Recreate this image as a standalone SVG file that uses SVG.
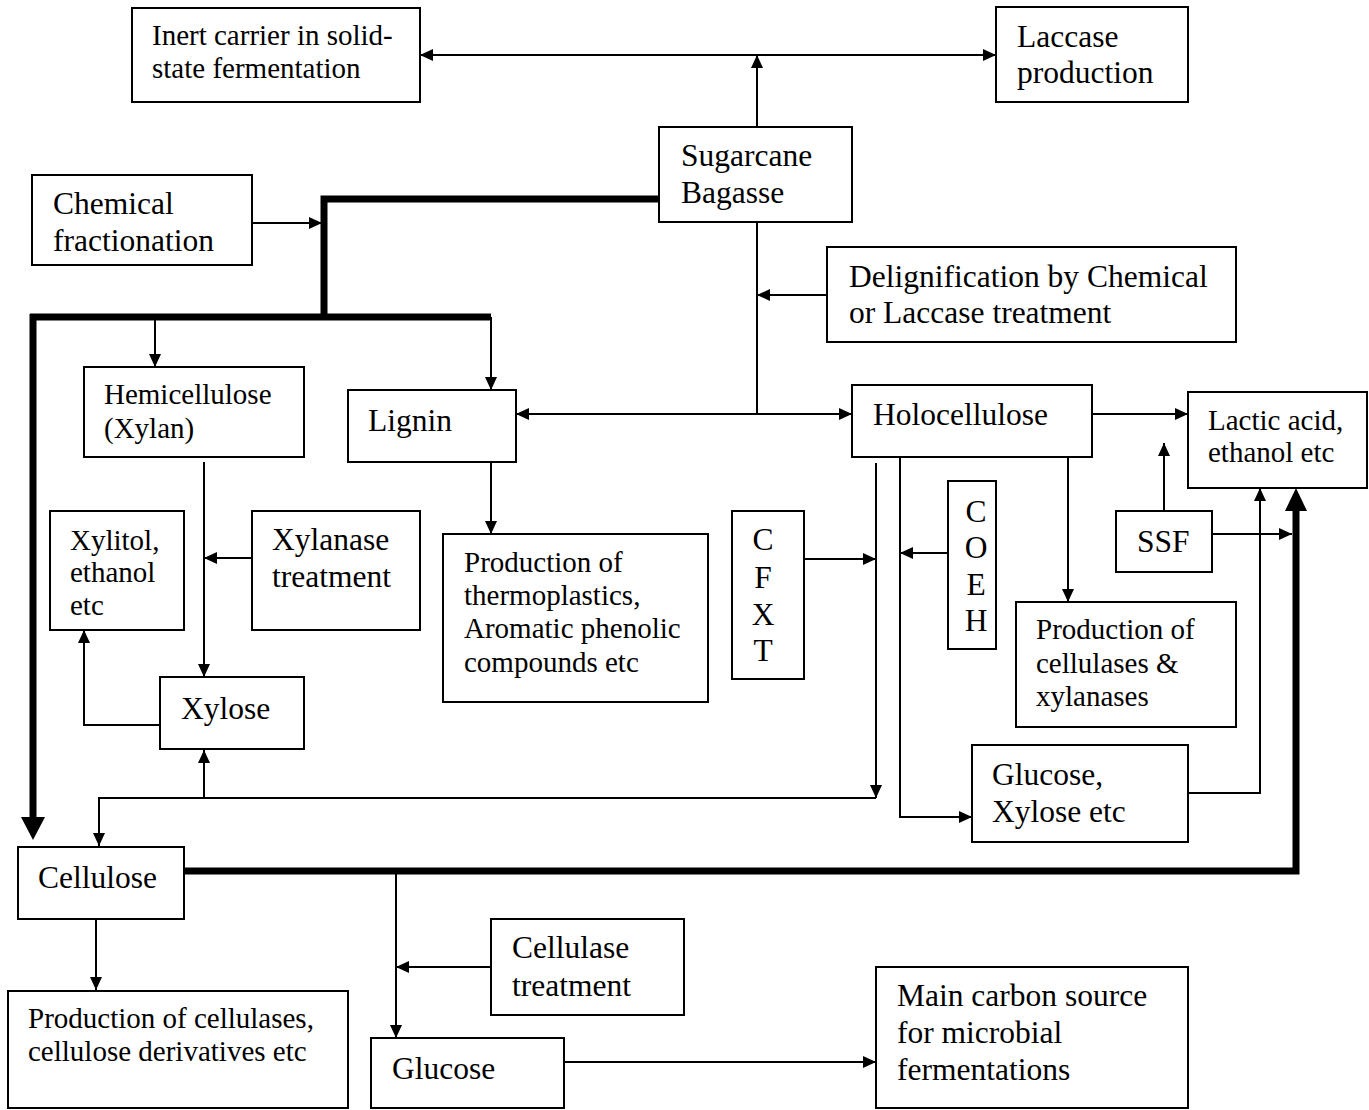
<svg xmlns="http://www.w3.org/2000/svg" width="1369" height="1110" viewBox="0 0 1369 1110">
<style>
.box{fill:#fff;stroke:#000;stroke-width:2}
.t{font-family:"Liberation Serif","Times New Roman",serif;font-size:31.5px;fill:#000}
.s{font-size:29px}
.c{stroke:#000;stroke-width:2;fill:none}
.k{stroke:#000;stroke-width:7;fill:none;stroke-linejoin:miter}
</style>
<defs>
<marker id="a" markerUnits="userSpaceOnUse" markerWidth="14" markerHeight="12" refX="13" refY="6" orient="auto-start-reverse"><path d="M0,0 L13,6 L0,12 z" fill="#000"/></marker>
<marker id="b" markerUnits="userSpaceOnUse" markerWidth="24" markerHeight="24" refX="0" refY="12" orient="auto"><path d="M0,0 L23,12 L0,24 z" fill="#000"/></marker>
</defs>
<g id="connectors">
<path class="c" d="M757,127 V55" marker-end="url(#a)"/>
<path class="c" d="M420,55 H996" marker-start="url(#a)" marker-end="url(#a)"/>
<path class="k" d="M659,199 H324 V317"/>
<path class="k" d="M30,317 H491"/>
<path class="k" d="M33,314 V817" marker-end="url(#b)"/>
<path class="c" d="M252,223 H322" marker-end="url(#a)"/>
<path class="c" d="M155,317 V367" marker-end="url(#a)"/>
<path class="c" d="M491,317 V390" marker-end="url(#a)"/>
<path class="c" d="M204,462 V677" marker-end="url(#a)"/>
<path class="c" d="M252,558 H204" marker-end="url(#a)"/>
<path class="c" d="M160,725 H84 V630" marker-end="url(#a)"/>
<path class="c" d="M757,221 V414"/>
<path class="c" d="M516,414 H852" marker-start="url(#a)" marker-end="url(#a)"/>
<path class="c" d="M827,295 H757" marker-end="url(#a)"/>
<path class="c" d="M491,462 V534" marker-end="url(#a)"/>
<path class="c" d="M1092,414 H1188" marker-end="url(#a)"/>
<path class="c" d="M876,463 V798" marker-end="url(#a)"/>
<path class="c" d="M876,798 H99 V846" marker-end="url(#a)"/>
<path class="c" d="M204,798 V750" marker-end="url(#a)"/>
<path class="c" d="M900,457 V817 H972" marker-end="url(#a)"/>
<path class="c" d="M804,559 H876" marker-end="url(#a)"/>
<path class="c" d="M948,553 H900" marker-end="url(#a)"/>
<path class="c" d="M1068,457 V602" marker-end="url(#a)"/>
<path class="c" d="M1164,511 V443" marker-end="url(#a)"/>
<path class="c" d="M1212,534 H1292" marker-end="url(#a)"/>
<path class="c" d="M1188,793 H1260 V488" marker-end="url(#a)"/>
<path class="k" d="M184,871 H1296 V511"/>
<path d="M1285,511 L1296,488 L1307,511 z" fill="#000"/>
<path class="c" d="M96,919 V990" marker-end="url(#a)"/>
<path class="c" d="M396,871 V1038" marker-end="url(#a)"/>
<path class="c" d="M491,967 H396" marker-end="url(#a)"/>
<path class="c" d="M564,1062 H876" marker-end="url(#a)"/>
</g>
<g id="inert"><rect class="box" x="132" y="8" width="288" height="94"/><text class="t s" x="152"><tspan x="152" y="45">Inert carrier in solid-</tspan><tspan x="152" y="78">state fermentation</tspan></text></g>
<g id="laccase"><rect class="box" x="996" y="7" width="192" height="95"/><text class="t"><tspan x="1017" y="47">Laccase</tspan><tspan x="1017" y="83">production</tspan></text></g>
<g id="sugarcane"><rect class="box" x="659" y="127" width="193" height="95"/><text class="t"><tspan x="681" y="166">Sugarcane</tspan><tspan x="681" y="203">Bagasse</tspan></text></g>
<g id="chemfrac"><rect class="box" x="32" y="175" width="220" height="90"/><text class="t"><tspan x="53" y="214">Chemical</tspan><tspan x="53" y="251">fractionation</tspan></text></g>
<g id="delig"><rect class="box" x="827" y="247" width="409" height="95"/><text class="t"><tspan x="849" y="287">Delignification by Chemical</tspan><tspan x="849" y="323">or Laccase treatment</tspan></text></g>
<g id="hemi"><rect class="box" x="84" y="367" width="220" height="90"/><text class="t s"><tspan x="104" y="404">Hemicellulose</tspan><tspan x="104" y="438">(Xylan)</tspan></text></g>
<g id="lignin"><rect class="box" x="348" y="390" width="168" height="72"/><text class="t" x="368" y="431">Lignin</text></g>
<g id="holo"><rect class="box" x="852" y="385" width="240" height="72"/><text class="t" x="873" y="425">Holocellulose</text></g>
<g id="lactic"><rect class="box" x="1188" y="392" width="179" height="96"/><text class="t s"><tspan x="1208" y="430">Lactic acid,</tspan><tspan x="1208" y="462">ethanol etc</tspan></text></g>
<g id="xylitol"><rect class="box" x="50" y="511" width="134" height="119"/><text class="t s"><tspan x="70" y="550">Xylitol,</tspan><tspan x="70" y="582">ethanol</tspan><tspan x="70" y="615">etc</tspan></text></g>
<g id="xylanase"><rect class="box" x="252" y="511" width="168" height="119"/><text class="t"><tspan x="272" y="550">Xylanase</tspan><tspan x="272" y="587">treatment</tspan></text></g>
<g id="thermo"><rect class="box" x="443" y="534" width="265" height="168"/><text class="t s"><tspan x="464" y="572">Production of</tspan><tspan x="464" y="605">thermoplastics,</tspan><tspan x="464" y="638">Aromatic phenolic</tspan><tspan x="464" y="672">compounds etc</tspan></text></g>
<g id="cfxt"><rect class="box" x="732" y="511" width="72" height="168"/><text class="t" text-anchor="middle"><tspan x="763" y="550">C</tspan><tspan x="763" y="588">F</tspan><tspan x="763" y="625">X</tspan><tspan x="763" y="661">T</tspan></text></g>
<g id="coeh"><rect class="box" x="948" y="481" width="48" height="168"/><text class="t" text-anchor="middle"><tspan x="976" y="522">C</tspan><tspan x="976" y="558">O</tspan><tspan x="976" y="595">E</tspan><tspan x="976" y="631">H</tspan></text></g>
<g id="ssf"><rect class="box" x="1116" y="511" width="96" height="61"/><text class="t" x="1137" y="552">SSF</text></g>
<g id="prodcell"><rect class="box" x="1016" y="602" width="220" height="125"/><text class="t s"><tspan x="1036" y="639">Production of</tspan><tspan x="1036" y="673">cellulases &amp;</tspan><tspan x="1036" y="706">xylanases</tspan></text></g>
<g id="xylose"><rect class="box" x="160" y="677" width="144" height="72"/><text class="t" x="181" y="719">Xylose</text></g>
<g id="glucxyl"><rect class="box" x="972" y="745" width="216" height="97"/><text class="t"><tspan x="992" y="785">Glucose,</tspan><tspan x="992" y="822">Xylose etc</tspan></text></g>
<g id="cellulose"><rect class="box" x="18" y="847" width="166" height="72"/><text class="t" x="38" y="888">Cellulose</text></g>
<g id="prodderiv"><rect class="box" x="8" y="991" width="340" height="117"/><text class="t s"><tspan x="28" y="1028">Production of cellulases,</tspan><tspan x="28" y="1061">cellulose derivatives etc</tspan></text></g>
<g id="cellulase"><rect class="box" x="491" y="919" width="193" height="96"/><text class="t"><tspan x="512" y="958">Cellulase</tspan><tspan x="512" y="996">treatment</tspan></text></g>
<g id="glucose"><rect class="box" x="371" y="1038" width="193" height="70"/><text class="t" x="392" y="1079">Glucose</text></g>
<g id="main"><rect class="box" x="876" y="967" width="312" height="141"/><text class="t"><tspan x="897" y="1006">Main carbon source</tspan><tspan x="897" y="1043">for microbial</tspan><tspan x="897" y="1080">fermentations</tspan></text></g>
</svg>
